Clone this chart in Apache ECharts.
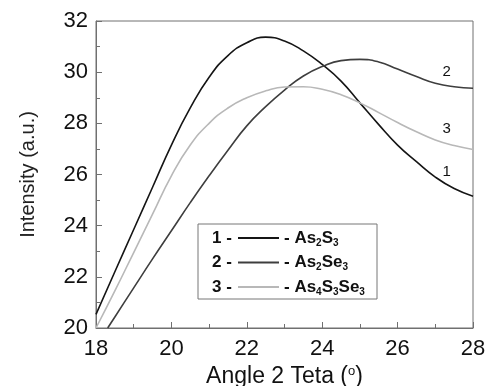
<!DOCTYPE html>
<html>
<head>
<meta charset="utf-8">
<script src="https://cdn.jsdelivr.net/npm/echarts@6/dist/echarts.min.js"></script>
<style>
  html, body { margin: 0; padding: 0; background: #fff; }
  #chart { width: 489px; height: 386px; }
</style>
</head>
<body>
<div id="chart"></div>
<script>
// curve 1 - As2S3
const xs1 = [18, 18.5, 19, 19.5, 20, 20.5, 21, 21.5, 22, 22.5, 23, 23.5, 24, 24.5, 25, 25.5, 26, 26.5, 27, 27.5, 28];
const ys1 = [20.53, 22.2, 23.85, 25.5, 27.15, 28.6, 29.8, 30.65, 31.15, 31.37, 31.22, 30.83, 30.3, 29.65, 28.8, 27.95, 27.15, 26.5, 25.9, 25.45, 25.15];
// curve 2 - As2Se3
const xs2 = [18.31, 18.5, 19, 19.5, 20, 20.5, 21, 21.5, 22, 22.5, 23, 23.5, 24, 24.5, 25, 25.5, 26, 26.5, 27, 27.5, 28];
const ys2 = [20.0, 20.43, 21.57, 22.7, 23.8, 24.9, 25.95, 26.95, 27.9, 28.65, 29.3, 29.85, 30.22, 30.45, 30.5, 30.4, 30.12, 29.83, 29.57, 29.43, 29.37];
// curve 3 - As4S3Se3
const xs3 = [18, 18.5, 19, 19.5, 20, 20.5, 21, 21.5, 22, 22.5, 23, 23.5, 24, 24.5, 25, 25.5, 26, 26.5, 27, 27.5, 28];
const ys3 = [20.0, 21.45, 22.95, 24.45, 25.95, 27.15, 28.0, 28.6, 29.0, 29.27, 29.42, 29.43, 29.33, 29.12, 28.8, 28.42, 28.03, 27.67, 27.35, 27.13, 26.98];

const seriesNames = ['As2S3', 'As2Se3', 'As4S3Se3'];
const legendLabels = ['- As{s|2}S{s|3}', '- As{s|2}Se{s|3}', '- As{s|4}S{s|3}Se{s|3}'];
const curveNumbers = ['1', '2', '3'];
// where the number labels sit next to each curve
const numberPos = [[27.3, 26.1], [27.3, 30.0], [27.3, 27.8]];
const colors = ['#151515', '#3e3e3e', '#b8b8b8'];

const xsAll = [xs1, xs2, xs3];
const ysAll = [ys1, ys2, ys3];

const chart = echarts.init(document.getElementById('chart'));
const font = '"Liberation Sans", Arial, sans-serif';

const series = seriesNames.map((name, i) => ({
  name: name,
  type: 'line',
  smooth: 0.5,
  symbol: 'none',
  data: xsAll[i].map((x, j) => [x, ysAll[i][j]]),
  lineStyle: { color: colors[i], width: 1.6 },
  itemStyle: { color: colors[i] },
  markPoint: {
    symbol: 'circle',
    symbolSize: 0,
    data: [{ coord: numberPos[i] }],
    label: {
      show: true,
      formatter: curveNumbers[i],
      color: '#111',
      fontFamily: font,
      fontSize: 15,
      position: 'inside'
    }
  }
}));

const rows = [238, 262.5, 287];

chart.setOption({
  animation: false,
  grid: {
    left: 96, top: 21, right: 16, bottom: 58,
    containLabel: false,
    outerBoundsMode: 'none',
    show: true, borderColor: '#707070', borderWidth: 1
  },
  legend: {
    orient: 'vertical',
    left: 237,
    top: 228,
    padding: 0,
    itemWidth: 41,
    itemHeight: 14,
    itemGap: 4.5,
    itemStyle: { opacity: 0 },
    data: seriesNames,
    formatter: (name) => legendLabels[seriesNames.indexOf(name)],
    textStyle: {
      fontFamily: font,
      fontSize: 17,
      fontWeight: 'bold',
      color: '#111',
      lineHeight: 20,
      rich: {
        s: { fontSize: 10, lineHeight: 10, fontWeight: 'bold', fontFamily: font, color: '#111', padding: [10, 0, 0, 0] }
      }
    }
  },
  graphic: [
    {
      type: 'rect',
      z: 0,
      shape: { x: 198, y: 224, width: 179, height: 75 },
      style: { fill: '#fff', stroke: '#777', lineWidth: 1 }
    },
    ...curveNumbers.map((n, i) => ({
      type: 'text',
      z: 10,
      x: 212,
      y: rows[i],
      style: {
        text: n + ' -',
        fontFamily: font,
        fontSize: 17,
        fontWeight: 'bold',
        fill: '#111',
        verticalAlign: 'middle'
      }
    }))
  ],
  xAxis: {
    type: 'value',
    min: 18, max: 28, interval: 2,
    name: 'Angle 2 Teta ({sup|o})',
    nameLocation: 'middle',
    nameGap: 36,
    nameTextStyle: {
      fontFamily: font, fontSize: 23, color: '#111',
      rich: { sup: { fontSize: 13, fontFamily: font, color: '#111', padding: [0, 0, 10, 0] } }
    },
    axisLine: { lineStyle: { color: '#707070' } },
    axisTick: { inside: true, length: 6, lineStyle: { color: '#707070' } },
    minorTick: { show: true, splitNumber: 2, length: 4, lineStyle: { color: '#707070' } },
    axisLabel: { fontFamily: font, fontSize: 22, color: '#111', margin: 10 },
    splitLine: { show: false }
  },
  yAxis: {
    type: 'value',
    min: 20, max: 32, interval: 2,
    name: 'Intensity (a.u.)',
    nameLocation: 'middle',
    nameGap: 58,
    nameTextStyle: { fontFamily: font, fontSize: 20, color: '#222' },
    axisLine: { show: true, lineStyle: { color: '#707070' } },
    axisTick: { inside: true, length: 6, lineStyle: { color: '#707070' } },
    minorTick: { show: true, splitNumber: 2, length: 4, lineStyle: { color: '#707070' } },
    axisLabel: { fontFamily: font, fontSize: 22, color: '#111', margin: 8 },
    splitLine: { show: false }
  },
  series: series
});
</script>
</body>
</html>
